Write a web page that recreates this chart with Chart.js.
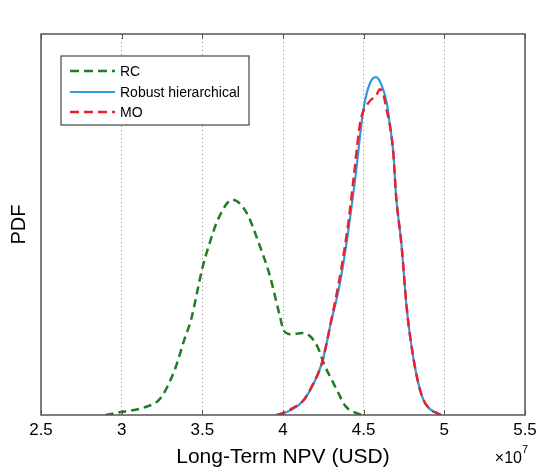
<!DOCTYPE html>
<html>
<head>
<meta charset="utf-8">
<script src="https://cdn.jsdelivr.net/npm/chart.js@4/dist/chart.umd.min.js"></script>
<style>
  html, body { margin: 0; padding: 0; background: #fff; }
  #wrap { width: 536px; height: 471px; }
</style>
</head>
<body>
<div id="wrap"><canvas id="c" width="536" height="471"></canvas></div>
<script>
// ---- data (x in units of 1e7 USD, y = PDF in relative units) ----
const seriesLabels = ["RC", "Robust hierarchical", "MO"];
const xTickValues = [2.5, 3, 3.5, 4, 4.5, 5, 5.5];

const rcX = [2.90, 3.00, 3.14, 3.24, 3.33, 3.39, 3.43, 3.50, 3.54, 3.60, 3.686, 3.77, 3.856, 3.92, 3.983, 4.004, 4.05, 4.12, 4.17, 4.216, 4.258, 4.30, 4.343, 4.386, 4.449, 4.49];
const rcY = [0.000, 0.008, 0.020, 0.044, 0.120, 0.200, 0.250, 0.385, 0.444, 0.516, 0.565, 0.534, 0.444, 0.363, 0.255, 0.222, 0.212, 0.215, 0.206, 0.177, 0.130, 0.094, 0.058, 0.024, 0.006, 0.000];

const rhX = [3.96, 3.99, 4.064, 4.126, 4.19, 4.24, 4.27, 4.30, 4.33, 4.364, 4.407, 4.447, 4.498, 4.54, 4.577, 4.61, 4.643, 4.664, 4.684, 4.70, 4.735, 4.767, 4.79, 4.83, 4.87, 4.915, 4.96, 4.98];
const rhY = [0.000, 0.003, 0.016, 0.038, 0.082, 0.135, 0.187, 0.249, 0.300, 0.372, 0.490, 0.617, 0.801, 0.872, 0.887, 0.867, 0.819, 0.757, 0.687, 0.580, 0.444, 0.280, 0.200, 0.100, 0.040, 0.014, 0.004, 0.000];

const moX = [3.96, 4.00, 4.06, 4.13, 4.19, 4.24, 4.30, 4.36, 4.41, 4.44, 4.48, 4.53, 4.58, 4.60, 4.62, 4.643, 4.664, 4.684, 4.70, 4.735, 4.767, 4.79, 4.83, 4.87, 4.915, 4.96, 4.98];
const moY = [0.000, 0.005, 0.018, 0.040, 0.085, 0.135, 0.250, 0.380, 0.520, 0.630, 0.770, 0.820, 0.840, 0.855, 0.845, 0.800, 0.757, 0.687, 0.580, 0.444, 0.280, 0.200, 0.100, 0.040, 0.014, 0.004, 0.000];

function pts(xs, ys) { return xs.map((x, i) => ({ x: x, y: ys[i] })); }

const FONT = "'Liberation Sans', Arial, Helvetica, sans-serif";

const framePlugin = {
  id: 'frame',
  afterDatasetsDraw(chart) {
    const { ctx, chartArea: a, scales } = chart;
    ctx.save();
    // inward ticks top & bottom
    ctx.strokeStyle = '#555';
    ctx.lineWidth = 1;
    xTickValues.forEach(v => {
      const px = Math.round(scales.x.getPixelForValue(v)) + 0.5;
      ctx.beginPath();
      ctx.moveTo(px, a.bottom); ctx.lineTo(px, a.bottom - 5);
      ctx.moveTo(px, a.top); ctx.lineTo(px, a.top + 5);
      ctx.stroke();
    });
    // frame
    ctx.strokeStyle = '#555';
    ctx.lineWidth = 1.5;
    ctx.strokeRect(a.left, a.top, a.right - a.left, a.bottom - a.top);

    // legend box
    const lx = 61, ly = 56, lw = 188, lh = 69;
    ctx.fillStyle = '#fff';
    ctx.fillRect(lx, ly, lw, lh);
    ctx.strokeStyle = '#444';
    ctx.lineWidth = 1.2;
    ctx.strokeRect(lx, ly, lw, lh);
    const rows = [71, 92, 112];
    chart.data.datasets.forEach((ds, i) => {
      const y = rows[i];
      ctx.beginPath();
      ctx.strokeStyle = ds.borderColor;
      ctx.lineWidth = ds.borderWidth;
      ctx.setLineDash(ds.legendDash || []);
      ctx.moveTo(70, y); ctx.lineTo(115, y);
      ctx.stroke();
      ctx.setLineDash([]);
      ctx.fillStyle = '#000';
      ctx.font = '14px ' + FONT;
      ctx.textBaseline = 'middle';
      ctx.textAlign = 'left';
      ctx.fillText(ds.label, 120, y + 1);
    });

    // x10^7 multiplier
    ctx.fillStyle = '#000';
    ctx.textBaseline = 'alphabetic';
    ctx.textAlign = 'right';
    ctx.font = '16px ' + FONT;
    ctx.fillText('\u00d710', 522, 463);
    ctx.textAlign = 'left';
    ctx.font = '11px ' + FONT;
    ctx.fillText('7', 522, 453);
    ctx.restore();
  }
};

new Chart(document.getElementById('c'), {
  type: 'scatter',
  data: {
    datasets: [
      {
        label: seriesLabels[0], data: pts(rcX, rcY), showLine: true,
        borderColor: '#1f7d25', borderWidth: 2.5, borderDash: [8, 5], legendDash: [9, 5],
        pointRadius: 0, cubicInterpolationMode: 'monotone', order: 2
      },
      {
        label: seriesLabels[1], data: pts(rhX, rhY), showLine: true,
        borderColor: '#2f9bdb', borderWidth: 2.2,
        pointRadius: 0, cubicInterpolationMode: 'monotone', order: 1
      },
      {
        label: seriesLabels[2], data: pts(moX, moY), showLine: true,
        borderColor: '#e8222c', borderWidth: 2.5, borderDash: [9, 5], legendDash: [9, 5],
        pointRadius: 0, cubicInterpolationMode: 'monotone', order: 0
      }
    ]
  },
  options: {
    responsive: false,
    animation: false,
    events: [],
    layout: { padding: { top: 34, right: 11, left: 0, bottom: 0 } },
    plugins: { legend: { display: false }, tooltip: { enabled: false } },
    scales: {
      x: {
        type: 'linear', min: 2.5, max: 5.5,
        afterBuildTicks(scale) { scale.ticks = xTickValues.map(v => ({ value: v })); },
        afterFit(scale) { scale.height = 56; scale.paddingLeft = 0; scale.paddingRight = 0; },
        ticks: {
          color: '#000', padding: 5,
          font: { family: FONT, size: 17 },
          callback: v => String(v)
        },
        grid: {
          display: true, drawTicks: false, color: '#8a8a8a', lineWidth: 1
        },
        border: { display: false, dash: [1, 3] },
        title: {
          display: true, text: 'Long-Term NPV (USD)', color: '#000',
          font: { family: FONT, size: 21 }, padding: { top: 0, bottom: 1 }
        }
      },
      y: {
        type: 'linear', min: 0, max: 1,
        afterFit(scale) { scale.width = 41; },
        ticks: { display: false },
        grid: { display: false, drawTicks: false },
        border: { display: false },
        title: {
          display: true, text: 'PDF', color: '#000',
          font: { family: FONT, size: 20 }, padding: { top: 7, bottom: 0 }
        }
      }
    }
  },
  plugins: [framePlugin]
});
</script>
</body>
</html>
